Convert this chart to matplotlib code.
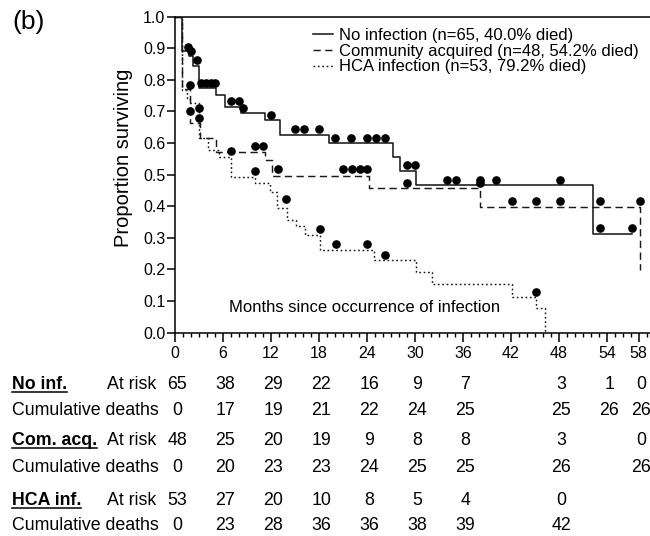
import matplotlib
matplotlib.use("Agg")
import matplotlib.pyplot as plt
from matplotlib import font_manager, transforms
from matplotlib.lines import Line2D
from matplotlib.ticker import FixedLocator, MultipleLocator, FormatStrFormatter

# ---------------- data ----------------
# Kaplan-Meier steps (time in months, survival after the step)
t_no = [0, 0.9, 1.8, 2.2, 3.0, 5.1, 6.2, 8.2, 11.2, 13.1, 19.2, 27.2, 28.1, 30.1, 52.3, 57.2]
s_no = [1.0, 0.89, 0.875, 0.845, 0.773, 0.753, 0.715, 0.694, 0.673, 0.627, 0.600, 0.555, 0.513, 0.466, 0.311, 0.311]

t_ca = [0, 0.9, 1.9, 3.1, 5.1, 11.25, 12.1, 24.2, 38.1, 58.2]
s_ca = [1.0, 0.771, 0.663, 0.617, 0.573, 0.547, 0.497, 0.457, 0.399, 0.198]

t_hca = [0, 0.9, 1.5, 1.9, 3.0, 4.1, 5.5, 7.0, 10.0, 11.9, 12.7, 14.0, 15.1, 16.2, 18.1, 24.9, 30.1, 32.2, 42.2, 45.1, 46.25]
s_hca = [1.0, 0.768, 0.743, 0.727, 0.615, 0.578, 0.557, 0.494, 0.473, 0.446, 0.394, 0.356, 0.338, 0.310, 0.262, 0.230, 0.191, 0.154, 0.114, 0.077, 0.0]

# censored observations
cx_no = [1.6, 2.0, 2.7, 3.3, 3.9, 4.5, 5.0, 7.0, 8.0, 8.5, 12.0, 15.0, 16.1, 18.0, 20.0, 22.0, 24.0, 25.1,
         26.2, 29.0, 30.0, 34.0, 35.1, 38.1, 40.1, 48.2, 53.2, 57.2]
cy_no = [0.905, 0.89, 0.863, 0.79, 0.79, 0.79, 0.79, 0.734, 0.734, 0.71, 0.689, 0.645, 0.645, 0.645, 0.617,
         0.617, 0.617, 0.617, 0.617, 0.531, 0.531, 0.483, 0.483, 0.483, 0.483, 0.483, 0.33, 0.33]
cx_ca = [1.9, 3.0, 10.0, 11.0, 12.9, 21.0, 22.1, 23.1, 24.0, 29.0, 38.1, 42.1, 45.1, 48.2, 53.2, 58.2]
cy_ca = [0.784, 0.68, 0.592, 0.592, 0.517, 0.518, 0.518, 0.518, 0.518, 0.473, 0.473, 0.418, 0.418, 0.418,
         0.418, 0.418]
cx_hca = [1.9, 3.0, 7.0, 10.0, 13.9, 18.1, 20.1, 24.0, 26.2, 45.1]
cy_hca = [0.70, 0.71, 0.575, 0.512, 0.422, 0.328, 0.28, 0.28, 0.246, 0.13]

labels = ["No infection (n=65, 40.0% died)",
          "Community acquired (n=48, 54.2% died)",
          "HCA infection (n=53, 79.2% died)"]

x_ticks = [0, 6, 12, 18, 24, 30, 36, 42, 48, 54, 58]

# numbers at risk / cumulative deaths table
m_no = [0, 6, 12, 18, 24, 30, 36, 48, 54, 58]
risk_no = [65, 38, 29, 22, 16, 9, 7, 3, 1, 0]
death_no = [0, 17, 19, 21, 22, 24, 25, 25, 26, 26]
m_ca = [0, 6, 12, 18, 24, 30, 36, 48, 58]
risk_ca = [48, 25, 20, 19, 9, 8, 8, 3, 0]
death_ca = [0, 20, 23, 23, 24, 25, 25, 26, 26]
m_hca = [0, 6, 12, 18, 24, 30, 36, 48]
risk_hca = [53, 27, 20, 10, 8, 5, 4, 0]
death_hca = [0, 23, 28, 36, 36, 38, 39, 42]
group_names = ["No inf.", "Com. acq.", "HCA inf."]

# ---------------- fonts ----------------
names = {f.name for f in font_manager.fontManager.ttflist}
MAIN = "Liberation Sans" if "Liberation Sans" in names else "DejaVu Sans"
if "Liberation Sans Narrow" in names:
    TAB_FONT, TAB_SIZE = "Liberation Sans Narrow", 15
else:
    TAB_FONT, TAB_SIZE = MAIN, 12.8
plt.rcParams["font.family"] = [MAIN, "DejaVu Sans"]

W, H = 650, 536
fig = plt.figure(figsize=(W / 100, H / 100), dpi=100)
ax = fig.add_axes([175 / W, 1 - 332.7 / H, 475 / W, 316 / H])

ink = "#1a1a1a"
l1, = ax.step(t_no, s_no, where="post", color=ink, lw=1.15, ls="-", label=labels[0])
l2, = ax.step(t_ca, s_ca, where="post", color=ink, lw=1.05, ls=(0, (5, 3)), label=labels[1])
l3, = ax.step(t_hca, s_hca, where="post", color=ink, lw=1.05, ls=(0, (1.2, 1.8)), label=labels[2])
for cx, cy in [(cx_no, cy_no), (cx_ca, cy_ca), (cx_hca, cy_hca)]:
    ax.plot(cx, cy, "o", ms=5.2, color="black", ls="none", clip_on=False)

ax.set_xlim(0, 59.4)
ax.set_ylim(0, 1.0)
ax.spines["right"].set_visible(False)
for s in ["left", "bottom", "top"]:
    ax.spines[s].set_linewidth(1.1)
ax.xaxis.set_major_locator(FixedLocator(x_ticks))
ax.xaxis.set_minor_locator(MultipleLocator(1))
ax.yaxis.set_major_locator(MultipleLocator(0.1))
ax.yaxis.set_major_formatter(FormatStrFormatter("%.1f"))
ax.tick_params(axis="x", which="major", length=6.5, width=1.1, pad=3, labelsize=11.5)
ax.tick_params(axis="x", which="minor", length=3, width=1.0)
ax.tick_params(axis="y", which="major", length=6, width=1.1, pad=1, labelsize=11.5)
ax.set_ylabel("Proportion surviving", fontsize=14.5)
ax.yaxis.set_label_coords(-0.108, 0.553)
ax.yaxis.label.set_va("center")

ax.text(0.4, 0.081, "Months since occurrence of infection", transform=ax.transAxes,
        ha="center", va="center", fontsize=12)

ax.legend(handles=[l1, l2, l3], loc="upper left", bbox_to_anchor=(0.29, 0.965), frameon=False,
          borderpad=0, borderaxespad=0, handlelength=1.2, handletextpad=0.35,
          labelspacing=0.05, fontsize=12)

fig.text(12 / W, 1 - 22 / H, "(b)", fontsize=19, va="center", ha="left")

# ---------------- table ----------------
trans = transforms.blended_transform_factory(ax.transData, fig.transFigure)
def fy(px):
    return 1 - px / H

groups = [(m_no, risk_no, death_no), (m_ca, risk_ca, death_ca), (m_hca, risk_hca, death_hca)]
base_risk = [389, 445, 505]
base_death = [415, 472, 530]
headers = []
for g, (ms, risk, death) in enumerate(groups):
    yb1, yb2 = fy(base_risk[g]), fy(base_death[g])
    h = fig.text(12 / W, yb1, group_names[g], family=TAB_FONT, fontsize=TAB_SIZE,
                 weight="bold", ha="left", va="baseline")
    headers.append(h)
    fig.text(156 / W, yb1, "At risk", family=TAB_FONT, fontsize=TAB_SIZE, ha="right", va="baseline")
    fig.text(12 / W, yb2, "Cumulative deaths", family=TAB_FONT, fontsize=TAB_SIZE, ha="left", va="baseline")
    for m, r, d in zip(ms, risk, death):
        fig.text(m + 0.3, yb1, str(r), transform=trans, family=TAB_FONT, fontsize=TAB_SIZE,
                 ha="center", va="baseline")
        fig.text(m + 0.3, yb2, str(d), transform=trans, family=TAB_FONT, fontsize=TAB_SIZE,
                 ha="center", va="baseline")

fig.canvas.draw()
r = fig.canvas.get_renderer()
for g, h in enumerate(headers):
    bb = h.get_window_extent(r)
    yline = fy(base_risk[g] + 3)
    fig.add_artist(Line2D([bb.x0 / W, bb.x1 / W], [yline, yline], color="black", lw=1.1,
                          transform=fig.transFigure))

fig.savefig("out.png", dpi=100)
